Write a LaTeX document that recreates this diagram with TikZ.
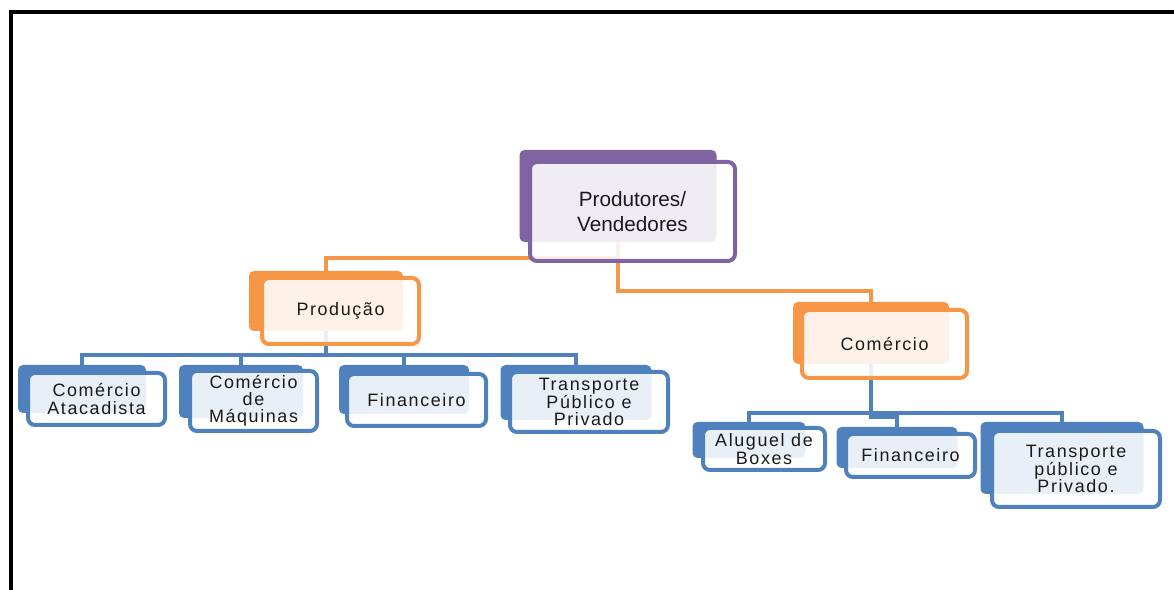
\documentclass[tikz,border=0pt]{standalone}
\usepackage{fontspec}
\setmainfont{Liberation Sans}
\newfontfamily\boxfont[LetterSpace=9]{Liberation Sans}
\usetikzlibrary{backgrounds}
\newdimen\px \px=0.02cm
\definecolor{purp}{HTML}{8064A2}
\definecolor{oran}{HTML}{F79646}
\definecolor{blu}{HTML}{4F81BD}
\definecolor{ink}{HTML}{1A1A1A}
\begin{document}
\begin{tikzpicture}[x=1\px, y=-1\px,
    back/.style={fill=#1, rounded corners=5\px, inner sep=0pt},
    front/.style={draw=#1, line width=4\px, fill=white, fill opacity=0.88,
      text opacity=1, rounded corners=7\px, inner sep=0pt, text=ink, align=center},
    small/.style={font=\boxfont\fontsize{10.2}{9.8}\selectfont},
    link/.style={draw=#1, line width=4\px}]
  \useasboundingbox (0,0) rectangle (1174,590);
  \draw[line width=4\px] (10.5,590) -- (10.5,12) -- (1174,12);

  \node[back=purp, minimum width=197\px, minimum height=92\px] (rootb) at (618,196) {};
  \node[front=purp, minimum width=205\px, minimum height=99\px,
    font=\fontsize{11.8}{14.5}\selectfont] (root) at (632.5,211.5) {Produtores/\\Vendedores};

  \node[back=oran, minimum width=154\px, minimum height=60\px] (prodb) at (326,301) {};
  \node[front=oran, small, minimum width=157\px, minimum height=66\px] (prod) at (340.5,311) {Produção};
  \node[back=oran, minimum width=156\px, minimum height=62\px] (comb) at (871,333) {};
  \node[front=oran, small, minimum width=165\px, minimum height=68\px] (com) at (884.5,344) {Comércio};

  \node[back=blu, minimum width=128\px, minimum height=48\px] (atacb) at (82,389) {};
  \node[front=blu, small, minimum width=137\px, minimum height=52\px] (atac) at (96.5,399) {Comércio\\Atacadista};
  \node[back=blu, minimum width=124\px, minimum height=53\px] (maqb) at (241,391.5) {};
  \node[front=blu, small, minimum width=127\px, minimum height=60\px] (maq) at (253.5,401) {Comércio\\de\\Máquinas};
  \node[back=blu, minimum width=130\px, minimum height=49\px] (finb) at (404,389.5) {};
  \node[front=blu, small, minimum width=139\px, minimum height=52\px] (fin) at (416.5,400) {Financeiro};
  \node[back=blu, minimum width=151\px, minimum height=55\px] (transb) at (576,392.5) {};
  \node[front=blu, small, minimum width=158\px, minimum height=60\px] (trans) at (589,402) {Transporte\\Público e\\Privado};

  \node[back=blu, minimum width=113\px, minimum height=36\px] (alugb) at (749,440) {};
  \node[front=blu, small, minimum width=122\px, minimum height=42\px] (alug) at (764,449) {Aluguel de\\Boxes};
  \node[back=blu, minimum width=121\px, minimum height=41\px] (finrb) at (897,447.5) {};
  \node[front=blu, small, minimum width=129\px, minimum height=43\px] (finr) at (910.5,455.5) {Financeiro};
  \node[back=blu, minimum width=163\px, minimum height=72\px] (transrb) at (1062,458) {};
  \node[front=blu, small, minimum width=168\px, minimum height=76\px] (transr) at (1076,469) {Transporte\\público e\\Privado.};

  \begin{scope}[on background layer]
    \coordinate (lj) at (618,258);
    \coordinate (rj) at (618,291);
    \draw[link=oran] (rootb.center) -- (rj) -| (comb.north);
    \draw[link=oran] (lj) -| (prodb.north);
    \coordinate (pj) at (326,355);
    \draw[link=blu] (prodb.center) -- (pj);
    \foreach \n in {atacb,maqb,finb,transb}
      \draw[link=blu] (pj) -| (\n.north);
    \coordinate (cj) at (871,413);
    \coordinate (fj) at (871,417);
    \draw[link=blu] (comb.center) -- (cj) -| (alugb.north);
    \draw[link=blu] (cj) -| (transrb.north);
    \draw[link=blu] (cj) -- (fj) -| (finrb.north);
  \end{scope}
\end{tikzpicture}
\end{document}
